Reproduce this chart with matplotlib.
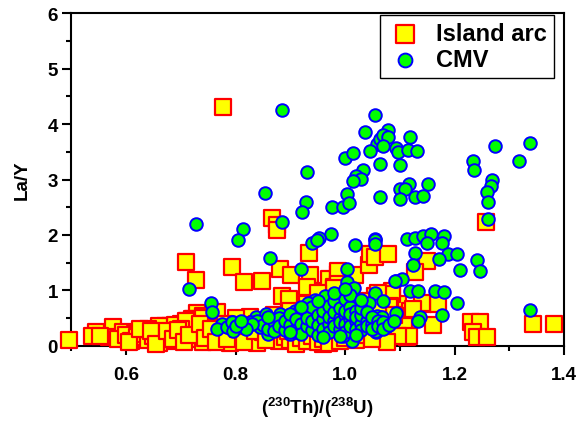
import matplotlib
matplotlib.use("Agg")
import matplotlib.pyplot as plt
import numpy as np

plt.rcParams['font.family'] = ['Liberation Sans', 'DejaVu Sans']
plt.rcParams['font.weight'] = 'bold'
plt.rcParams['mathtext.fontset'] = 'custom'
plt.rcParams['mathtext.rm'] = 'Liberation Sans:bold'
plt.rcParams['mathtext.default'] = 'rm'

# Island arc samples: (230Th)/(238U) vs La/Y
arc_x = [0.777, 0.867, 0.876, 0.875, 0.710, 0.794, 0.728, 0.816, 0.849, 0.881,
         0.901, 0.936, 0.935, 0.939, 0.884, 0.898, 0.729, 0.766, 0.577, 0.546,
         0.568, 0.495, 0.537, 0.970, 0.988, 1.018, 1.043, 1.046, 1.055, 1.079,
         1.149, 1.128, 0.982, 1.085, 1.097, 1.143, 1.170, 1.119, 1.161, 1.113,
         1.100, 1.113, 1.231, 1.247, 1.234, 1.241, 1.259, 1.343, 1.382, 1.257,
         0.826, 0.723, 0.741, 0.552, 0.671, 0.696, 0.711, 0.668, 0.595, 0.616,
         0.638, 1.055, 1.076, 1.094, 0.988, 0.979, 0.988, 0.930, 1.085, 1.082,
         1.140, 1.125, 1.107, 1.116, 1.097, 1.076, 0.960, 0.942, 0.927, 0.991,
         0.585, 0.600, 0.610, 0.620, 0.630, 0.640, 0.650, 0.660, 0.660, 0.670,
         0.680, 0.680, 0.690, 0.700, 0.700, 0.710, 0.720, 0.720, 0.730, 0.740,
         0.740, 0.750, 0.750, 0.760, 0.770, 0.770, 0.780, 0.790, 0.790, 0.800,
         0.810, 0.820, 0.820, 0.830, 0.840, 0.850, 0.860, 0.870, 0.880, 0.890,
         0.900, 0.910, 0.920, 0.930, 0.940, 0.950, 0.960, 0.970, 0.990, 1.000,
         1.020, 1.040, 1.050, 0.720, 0.690, 0.660, 0.710, 0.740, 0.800, 0.840,
         0.870, 0.900, 0.930, 0.960, 0.990, 1.010, 1.030, 1.060, 1.080, 1.090,
         1.060, 0.980, 0.950, 0.640, 0.700, 0.760, 0.820, 0.860, 0.780,
         0.605, 0.625, 0.645, 0.655, 0.675, 0.685, 0.695, 0.705, 0.715, 0.735,
         0.745, 0.755, 0.765, 0.785, 0.805, 0.815, 0.835, 0.855, 0.875, 0.895]
arc_y = [4.30, 2.30, 2.17, 2.08, 1.52, 1.42, 1.19, 1.15, 1.16, 1.39,
         1.28, 1.27, 1.67, 0.99, 0.90, 0.84, 0.59, 0.61, 0.34, 0.24,
         0.15, 0.10, 0.18, 1.21, 1.30, 1.27, 1.45, 1.66, 1.60, 1.66,
         1.53, 1.33, 1.02, 0.99, 0.75, 0.75, 0.75, 0.63, 0.38, 0.36,
         0.18, 0.15, 0.42, 0.42, 0.24, 0.15, 0.15, 0.39, 0.39, 2.24,
         0.51, 0.48, 0.54, 0.18, 0.36, 0.36, 0.45, 0.21, 0.24, 0.21,
         0.24, 0.90, 0.72, 0.54, 1.34, 1.06, 1.12, 1.06, 0.93, 0.72,
         0.78, 0.66, 0.36, 0.18, 0.18, 0.06, 0.03, 0.09, 0.15, 0.18,
         0.12, 0.20, 0.08, 0.15, 0.22, 0.10, 0.18, 0.05, 0.28, 0.14,
         0.22, 0.35, 0.08, 0.18, 0.40, 0.28, 0.12, 0.36, 0.22, 0.06,
         0.30, 0.16, 0.42, 0.25, 0.10, 0.34, 0.20, 0.05, 0.28, 0.14,
         0.22, 0.08, 0.32, 0.18, 0.05, 0.24, 0.12, 0.20, 0.08, 0.16,
         0.10, 0.04, 0.14, 0.08, 0.18, 0.06, 0.12, 0.05, 0.08, 0.14,
         0.10, 0.20, 0.12, 0.48, 0.38, 0.36, 0.45, 0.50, 0.50, 0.40,
         0.55, 0.62, 0.75, 0.85, 0.95, 0.60, 0.80, 0.95, 0.70, 0.55,
         0.75, 1.05, 0.95, 0.30, 0.30, 0.32, 0.38, 0.35, 0.40,
         0.06, 0.30, 0.26, 0.04, 0.26, 0.12, 0.28, 0.06, 0.20, 0.40,
         0.14, 0.30, 0.06, 0.12, 0.30, 0.06, 0.26, 0.10, 0.30, 0.26]

# CMV samples
cmv_x = [0.884, 1.055, 1.037, 1.058, 1.046, 1.000, 1.015, 1.064, 0.930, 1.033,
         1.020, 1.030, 1.015, 0.853, 1.003, 1.064, 0.929, 0.922, 0.976, 0.997,
         1.007, 0.885, 0.727, 0.814, 0.974, 0.953, 0.805, 1.055, 1.079, 1.064,
         1.070, 1.079, 1.069, 1.119, 1.093, 1.096, 1.115, 1.132, 1.100, 1.116,
         1.100, 1.110, 1.151, 1.100, 1.128, 1.143, 1.274, 1.338, 1.234, 1.236,
         1.318, 1.269, 1.267, 1.259, 1.262, 1.262, 1.054, 1.113, 1.128, 1.143,
         1.157, 1.181, 0.863, 0.715, 0.919, 0.939, 0.948, 0.944, 0.755, 0.757,
         0.775, 0.766, 0.787, 0.796, 1.018, 1.055, 1.150, 1.177, 1.128, 1.189,
         1.204, 1.172, 1.210, 1.241, 1.247, 1.125, 1.094, 1.105, 1.119, 1.134,
         1.164, 1.180, 1.205, 1.178, 1.137, 1.134, 1.338, 1.003, 1.003, 1.016,
         1.055, 1.043, 1.070, 1.015, 0.945, 0.963, 1.091, 1.093, 1.064, 1.077,
         1.057, 1.012, 0.997, 0.785, 0.794, 0.796, 0.814, 0.837, 0.856, 0.858,
         0.845, 0.863, 0.860, 0.881, 0.887, 0.900, 0.909, 0.918, 0.915, 0.900,
         0.927, 0.933, 0.817, 0.828, 1.058, 1.067, 1.076, 1.057,
         0.84, 0.85, 0.86, 0.87, 0.87, 0.88, 0.88, 0.89, 0.89, 0.90,
         0.90, 0.91, 0.91, 0.92, 0.92, 0.93, 0.93, 0.93, 0.94, 0.94,
         0.94, 0.95, 0.95, 0.95, 0.96, 0.96, 0.96, 0.97, 0.97, 0.97,
         0.97, 0.98, 0.98, 0.98, 0.98, 0.99, 0.99, 0.99, 0.99, 1.00,
         1.00, 1.00, 1.00, 1.00, 1.01, 1.01, 1.01, 1.01, 1.02, 1.02,
         1.02, 1.02, 1.03, 1.03, 1.03, 1.03, 1.04, 1.04, 1.04, 1.05,
         1.05, 1.05, 1.06, 1.06, 1.07, 1.07, 1.08, 1.09, 0.96, 0.99,
         1.02, 0.90, 0.86, 0.83, 0.82, 0.80, 0.81, 0.92, 0.95, 0.98,
         1.01, 1.03, 1.00]
cmv_y = [4.26, 4.17, 3.86, 3.65, 3.52, 3.39, 3.48, 3.28, 3.13, 3.18,
         3.07, 3.01, 2.98, 2.76, 2.74, 2.68, 2.59, 2.42, 2.51, 2.51,
         2.58, 2.24, 2.20, 2.10, 2.01, 1.94, 1.90, 1.93, 3.89, 3.74,
         3.80, 3.77, 3.60, 3.77, 3.56, 3.50, 3.54, 3.51, 3.27, 2.92,
         2.82, 2.83, 2.92, 2.64, 2.69, 2.70, 3.60, 3.66, 3.33, 3.18,
         3.33, 3.00, 2.89, 2.77, 2.59, 2.29, 1.90, 1.93, 1.95, 1.98,
         2.02, 1.98, 1.59, 1.02, 1.39, 1.85, 1.90, 0.81, 0.77, 0.60,
         0.40, 0.30, 0.34, 0.42, 1.81, 1.84, 1.86, 1.86, 1.68, 1.66,
         1.66, 1.57, 1.37, 1.54, 1.34, 1.45, 1.17, 1.21, 0.99, 0.98,
         0.98, 0.97, 0.77, 0.55, 0.51, 0.45, 0.65, 1.39, 1.15, 1.04,
         0.95, 0.78, 0.80, 0.77, 0.83, 0.90, 1.16, 0.59, 0.51, 0.35,
         0.24, 0.09, 0.18, 0.33, 0.43, 0.27, 0.35, 0.52, 0.57, 0.48,
         0.33, 0.33, 0.21, 0.57, 0.42, 0.54, 0.63, 0.66, 0.24, 0.21,
         0.54, 0.78, 0.39, 0.42, 0.54, 0.51, 0.36, 0.27,
         0.45, 0.38, 0.30, 0.42, 0.26, 0.50, 0.35, 0.28, 0.45, 0.38,
         0.58, 0.30, 0.48, 0.40, 0.22, 0.62, 0.35, 0.50, 0.28, 0.44,
         0.70, 0.55, 0.38, 0.20, 0.48, 0.62, 0.30, 0.40, 0.52, 0.72,
         0.25, 0.45, 0.60, 0.35, 0.80, 0.50, 0.30, 0.68, 0.42, 0.55,
         0.40, 0.62, 0.25, 0.85, 0.48, 0.35, 0.70, 0.58, 0.44, 0.30,
         0.62, 0.52, 0.40, 0.55, 0.68, 0.28, 0.45, 0.35, 0.60, 0.40,
         0.52, 0.30, 0.44, 0.36, 0.42, 0.30, 0.38, 0.45, 0.15, 0.18,
         0.20, 0.24, 0.52, 0.40, 0.30, 0.36, 0.45, 0.70, 0.80, 0.95,
         0.92, 0.82, 1.02]

fig = plt.figure(figsize=(5.79, 4.27), dpi=100)
ax = fig.add_axes([0.1231, 0.188, 0.8510, 0.7785])

ax.scatter(arc_x, arc_y, marker='s', s=125, facecolor='#ffff00', edgecolor='#ff0000',
           linewidth=1.6, label='Island arc', zorder=3, clip_on=False)
ax.scatter(cmv_x, cmv_y, marker='o', s=82, facecolor='#00ff00', edgecolor='#0000ff',
           linewidth=1.4, label='CMV', zorder=4, clip_on=False)

ax.set_xlim(0.5, 1.4)
ax.set_ylim(0, 6)
ax.set_xticks([0.6, 0.8, 1.0, 1.2, 1.4])
ax.set_xticks(np.arange(0.5, 1.41, 0.1), minor=True)
ax.set_yticks(range(7))
ax.set_yticks(np.arange(0, 6.01, 0.5), minor=True)
ax.xaxis.set_major_formatter(matplotlib.ticker.FormatStrFormatter('%.1f'))

for sp in ax.spines.values():
    sp.set_linewidth(1.5)
ax.tick_params(which='major', direction='out', length=6.5, width=1.5, labelsize=13.5, pad=3)
ax.tick_params(which='minor', direction='out', length=3.5, width=1.5)
ax.tick_params(axis='x', pad=8)
for lab in ax.get_xticklabels() + ax.get_yticklabels():
    lab.set_fontweight('bold')

ax.set_xlabel(r'($^{230}$Th)/($^{238}$U)', fontsize=13.5, fontweight='bold', labelpad=9)
ax.set_ylabel('La/Y', fontsize=13.5, fontweight='bold', labelpad=12)

leg = ax.legend(loc='upper right', bbox_to_anchor=(0.98, 0.996), borderaxespad=0,
                fancybox=False, framealpha=1, edgecolor='black',
                prop={'weight': 'bold', 'size': 17}, handletextpad=0.5,
                borderpad=0.3, labelspacing=0.15, handlelength=1.6, markerscale=1.1)
leg.get_frame().set_linewidth(1.0)

fig.savefig('out.png', dpi=100)
